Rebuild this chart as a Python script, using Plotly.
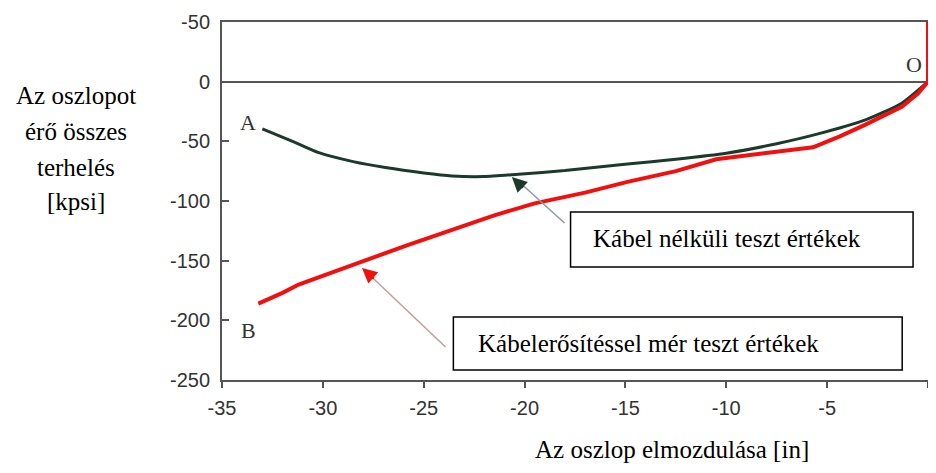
import plotly.graph_objects as go

# ---- data ----
green_x = [-33.0, -31.5, -30.2, -28.5, -26.9, -25.0, -23.6, -22.0, -20.3, -18.0, -14.9, -12.5, -10.0, -7.5, -5.5, -3.1, -1.3, 0.0]
green_y = [-39.5, -50, -59.5, -67, -72, -76.5, -79, -79.5, -77.5, -74.5, -69, -65, -60, -52, -44, -32, -18, 0]

red_x = [-33.2, -32.0, -31.2, -29.5, -28.1, -25.8, -23.6, -21.5, -19.5, -17.0, -14.9, -12.5, -10.5, -8.0, -5.7, -4.4, -3.1, -1.3, -0.5, 0.0, 0.0]
red_y = [-186, -177, -170, -160, -151, -137, -124, -112, -102, -93, -84, -75, -65, -60, -55, -46, -36, -21, -10, 0, 50]

x_ticks = [-35, -30, -25, -20, -15, -10, -5, 0]
x_ticktext = ["-35", "-30", "-25", "-20", "-15", "-10", "-5", "0"]
y_ticks = [50, 0, -50, -100, -150, -200, -250]
y_ticktext = ["-50", "0", "-50", "-100", "-150", "-200", "-250"]

x_title = "Az oszlop elmozdulása [in]"
y_title_lines = ["Az oszlopot", "érő összes", "terhelés", "[kpsi]"]
label_green = "Kábel nélküli teszt értékek"
label_red = "Kábelerősítéssel mér teszt értékek"

SERIF = "Liberation Serif, Times New Roman, serif"
SANS = "Liberation Sans, Arial, sans-serif"
AX = "#555555"

# page has an 8px body margin; keep the figure inside the window
OFF = 8
W, H = 920, 457
PL, PR, PT, PB = 222, OFF + W, 22, 380   # plot area in page pixels

fig = go.Figure()
fig.add_trace(go.Scatter(x=green_x, y=green_y, mode="lines",
                         line=dict(color="#1c3a2c", width=3, shape="spline", smoothing=0.6),
                         showlegend=False, hoverinfo="skip"))
fig.add_trace(go.Scatter(x=red_x, y=red_y, mode="lines",
                         line=dict(color="#f01010", width=4),
                         showlegend=False, hoverinfo="skip"))

fig.update_layout(
    width=W, height=H,
    margin=dict(l=PL - OFF, r=OFF + W - PR, t=PT - OFF, b=OFF + H - PB, autoexpand=False),
    paper_bgcolor="white", plot_bgcolor="white",
    xaxis=dict(range=[-35, 0], tickvals=x_ticks, ticktext=x_ticktext, automargin=False,
               showgrid=False, zeroline=False, showline=True, linecolor=AX, linewidth=2,
               mirror=True, ticks="outside", ticklen=6, tickcolor=AX, tickwidth=1.5,
               tickfont=dict(family=SANS, size=20, color="#333333"), ticklabelstandoff=3),
    yaxis=dict(range=[-250, 50], tickvals=y_ticks, ticktext=y_ticktext, automargin=False,
               showgrid=False, zeroline=True, zerolinecolor=AX, zerolinewidth=1.5,
               showline=True, linecolor=AX, linewidth=2, mirror=True,
               ticks="inside", ticklen=7, tickcolor=AX, tickwidth=1.5,
               tickfont=dict(family=SANS, size=20, color="#333333"), ticklabelstandoff=6),
)

# boxes
fig.add_shape(type="rect", xref="x", yref="y", x0=-17.72, x1=-0.74, y0=-109.2, y1=-155.3,
              line=dict(color="black", width=1.5), fillcolor="white", layer="above")
fig.add_shape(type="rect", xref="x", yref="y", x0=-23.53, x1=-1.28, y0=-197.2, y1=-241.6,
              line=dict(color="black", width=1.5), fillcolor="white", layer="above")

fig.add_annotation(x=-16.69, y=-131.8, xref="x", yref="y", text=label_green, showarrow=False,
                   xanchor="left", yanchor="middle", font=dict(family=SERIF, size=25, color="black"))
fig.add_annotation(x=-22.4, y=-219.0, xref="x", yref="y", text=label_red, showarrow=False,
                   xanchor="left", yanchor="middle", font=dict(family=SERIF, size=25, color="black"))

# arrow lines
fig.add_shape(type="line", xref="x", yref="y", x0=-18.02, y0=-118.4, x1=-20.4, y1=-82.0,
              line=dict(color="#8a9aa0", width=1.5))
fig.add_shape(type="line", xref="x", yref="y", x0=-23.92, y0=-222.4, x1=-27.9, y1=-158.5,
              line=dict(color="#c89a9a", width=1.5))
# arrow heads
fig.add_annotation(x=-20.63, y=-79.9, xref="x", yref="y", ax=-20.0, ay=-90.0, axref="x", ayref="y",
                   text="", showarrow=True, arrowhead=2, arrowsize=1.2, arrowwidth=2.5,
                   arrowcolor="#1c3a2c")
fig.add_annotation(x=-28.06, y=-156.2, xref="x", yref="y", ax=-27.4, ay=-166.0, axref="x", ayref="y",
                   text="", showarrow=True, arrowhead=2, arrowsize=1.2, arrowwidth=2.5,
                   arrowcolor="#f01010")

# point labels
for txt, xx, yy in [("A", -33.72, -34.6), ("B", -33.67, -208.1), ("O", -0.7, 14.0)]:
    fig.add_annotation(x=xx, y=yy, xref="x", yref="y", text=txt, showarrow=False,
                       xanchor="center", yanchor="middle",
                       font=dict(family=SERIF, size=22, color="#333333"))


def px(xp):
    return (xp - PL) / (PR - PL)


def py(yp):
    return (PB - yp) / (PB - PT)


# axis titles
fig.add_annotation(x=px(672), y=py(449), xref="paper", yref="paper",
                   text=x_title, showarrow=False,
                   xanchor="center", yanchor="middle", font=dict(family=SERIF, size=25, color="black"))
for line, yp in zip(y_title_lines, [96, 132, 167, 201]):
    fig.add_annotation(x=px(76), y=py(yp), xref="paper", yref="paper",
                       text=line, showarrow=False, xanchor="center", yanchor="middle",
                       font=dict(family=SERIF, size=25, color="black"))

fig.write_html("out.html")
